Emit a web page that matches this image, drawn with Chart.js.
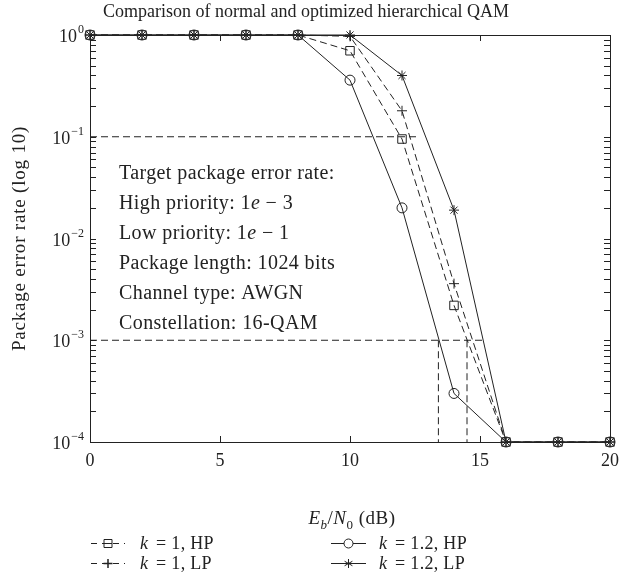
<!DOCTYPE html>
<html lang="en">
<head>
  <meta charset="UTF-8">
  <title>Hierarchical QAM</title>
  <script src="https://cdn.jsdelivr.net/npm/chart.js"></script>
  <style>
    body { margin: 0; background: #fff; }
    #grafico { display: block; }
  </style>
</head>
<body>
  <canvas id="grafico" width="619" height="575"></canvas>
  <script>
    // Eb/N0 in dB
    const ebno = [0, 2, 4, 6, 8, 10, 12, 14, 16, 18, 20];
    // package error rate per configuration
    const perK1HP = [1, 1, 1, 1, 1, 0.7, 0.095, 0.0022, 1e-4, 1e-4, 1e-4];
    const perK1LP = [1, 1, 1, 1, 1, 0.97, 0.18, 0.0036, 1e-4, 1e-4, 1e-4];
    const perK12HP = [1, 1, 1, 1, 1, 0.36, 0.02, 0.0003, 1e-4, 1e-4, 1e-4];
    const perK12LP = [1, 1, 1, 1, 1, 1, 0.4, 0.019, 1e-4, 1e-4, 1e-4];

    // target guides (x in dB, y as error rate)
    const guideLP = [[0, 0.1], [12.6, 0.1]];
    const guideHP = [[0, 1e-3], [15.2, 1e-3]];
    const guideK12 = [[13.4, 1e-3], [13.4, 1e-4]];
    const guideK1 = [[14.5, 1e-3], [14.5, 1e-4]];

    const xTicks = [0, 5, 10, 15, 20];
    const yDecades = [0, -1, -2, -3, -4];

    const notes = [
      ['Target package error rate:'],
      ['High priority: 1', 'e', ' \u2212 3'],
      ['Low priority: 1', 'e', ' \u2212 1'],
      ['Package length: 1024 bits'],
      ['Channel type: AWGN'],
      ['Constellation: 16-QAM']
    ];

    const SERIF = '"Liberation Serif", "DejaVu Serif", serif';
    const pts = ys => ebno.map((x, i) => ({ x, y: ys[i] }));
    const seg = arr => arr.map(p => ({ x: p[0], y: p[1] }));

    function serie(label, ys, style, dashed, radius) {
      return {
        label, data: pts(ys),
        borderColor: '#222', backgroundColor: 'rgba(0,0,0,0)',
        borderWidth: 1, borderDash: dashed ? [7, 4] : [],
        pointStyle: style, pointRadius: radius, pointBorderWidth: 1,
        pointBorderColor: '#222', pointBackgroundColor: 'rgba(0,0,0,0)',
        clip: false, tension: 0
      };
    }
    function guia(arr) {
      return {
        label: '', data: seg(arr), borderColor: '#222', borderWidth: 1,
        borderDash: [7, 4], pointRadius: 0, clip: false
      };
    }

    function fonte(ctx, size, italic, spacing) {
      ctx.font = (italic ? 'italic ' : '') + size + 'px ' + SERIF;
      ctx.letterSpacing = (spacing || 0) + 'px';
    }

    // frame, ticks, labels, notes, legend
    const moldura = {
      id: 'moldura',
      afterDraw(chart) {
        const ctx = chart.ctx;
        const a = chart.chartArea;
        const xs = chart.scales.x, ys = chart.scales.y;
        ctx.save();
        ctx.strokeStyle = '#222';
        ctx.lineWidth = 1;
        ctx.strokeRect(a.left + 0.5, a.top + 0.5, a.right - a.left, a.bottom - a.top);

        ctx.beginPath();
        xTicks.forEach(v => {
          const px = Math.round(xs.getPixelForValue(v)) + 0.5;
          ctx.moveTo(px, a.bottom); ctx.lineTo(px, a.bottom - 6);
          ctx.moveTo(px, a.top); ctx.lineTo(px, a.top + 6);
        });
        for (let d = -4; d < 0; d++) {
          for (let m = 2; m <= 9; m++) {
            const py = Math.round(ys.getPixelForValue(m * Math.pow(10, d))) + 0.5;
            ctx.moveTo(a.left, py); ctx.lineTo(a.left + 6, py);
            ctx.moveTo(a.right, py); ctx.lineTo(a.right - 6, py);
          }
        }
        yDecades.forEach(d => {
          const py = Math.round(ys.getPixelForValue(Math.pow(10, d))) + 0.5;
          ctx.moveTo(a.left, py); ctx.lineTo(a.left + 6, py);
          ctx.moveTo(a.right, py); ctx.lineTo(a.right - 6, py);
        });
        ctx.stroke();

        ctx.fillStyle = '#222';
        ctx.textBaseline = 'alphabetic';
        // x tick labels
        fonte(ctx, 18);
        ctx.textAlign = 'center';
        xTicks.forEach(v => ctx.fillText(String(v), xs.getPixelForValue(v), a.bottom + 24));

        // y tick labels with exponent
        yDecades.forEach(d => {
          const py = ys.getPixelForValue(Math.pow(10, d));
          const exp = d === 0 ? '0' : '\u2212' + (-d);
          fonte(ctx, 12);
          const we = ctx.measureText(exp).width;
          ctx.textAlign = 'left';
          const right = a.left - 6;
          ctx.fillText(exp, right - we, py - 2);
          fonte(ctx, 18);
          ctx.textAlign = 'right';
          ctx.fillText('10', right - we - 1, py + 7);
        });

        // title
        fonte(ctx, 18, false, 0);
        ctx.textAlign = 'center';
        ctx.fillText('Comparison of normal and optimized hierarchical QAM', 306, 17);

        // y axis title
        ctx.save();
        ctx.translate(25, (a.top + a.bottom) / 2);
        ctx.rotate(-Math.PI / 2);
        fonte(ctx, 19, false, 0.8);
        ctx.textAlign = 'center';
        ctx.fillText('Package error rate (log 10)', 0, 0);
        ctx.restore();

        // x axis title: Eb/N0 (dB)
        const partes = [
          ['E', 19, true, 0], ['b', 13, true, 5], ['/', 19, false, 0],
          ['N', 19, true, 0], ['0', 13, false, 5], [' (dB)', 19, false, 0]
        ];
        let total = 0;
        partes.forEach(p => { fonte(ctx, p[1], p[2], 0.5); total += ctx.measureText(p[0]).width; });
        let cx = 352 - total / 2;
        ctx.textAlign = 'left';
        partes.forEach(p => {
          fonte(ctx, p[1], p[2], 0.5);
          ctx.fillText(p[0], cx, 524 + p[3]);
          cx += ctx.measureText(p[0]).width;
        });

        // notes block
        notes.forEach((linha, i) => {
          let tx = 119;
          const ty = 179 + i * 30;
          linha.forEach((t, j) => {
            fonte(ctx, 20, j === 1, 0.4);
            ctx.fillText(t, tx, ty);
            tx += ctx.measureText(t).width;
          });
        });

        // legend
        const itens = [
          { k: '1', tipo: 'HP', style: 'rect', dashed: true, x0: 91, x1: 125, tx: 140, y: 543 },
          { k: '1', tipo: 'LP', style: 'cross', dashed: true, x0: 91, x1: 125, tx: 140, y: 563 },
          { k: '1.2', tipo: 'HP', style: 'circle', dashed: false, x0: 331, x1: 366, tx: 379, y: 543 },
          { k: '1.2', tipo: 'LP', style: 'star', dashed: false, x0: 331, x1: 366, tx: 379, y: 563 }
        ];
        itens.forEach(it => {
          ctx.beginPath();
          ctx.setLineDash(it.dashed ? [6, 5] : []);
          ctx.moveTo(it.x0, it.y + 0.5); ctx.lineTo(it.x1, it.y + 0.5);
          ctx.stroke();
          ctx.setLineDash([]);
          const mx = (it.x0 + it.x1) / 2, my = it.y + 0.5;
          ctx.fillStyle = '#fff';
          ctx.beginPath();
          if (it.style === 'rect') { ctx.rect(mx - 4, my - 4, 8, 8); ctx.fill(); ctx.stroke(); ctx.beginPath(); ctx.moveTo(mx - 4, my); ctx.lineTo(mx + 4, my); ctx.stroke(); }
          if (it.style === 'circle') { ctx.arc(mx, my, 4.5, 0, Math.PI * 2); ctx.fill(); ctx.stroke(); }
          if (it.style === 'cross') { ctx.lineWidth = 1.5; ctx.moveTo(mx - 4.5, my); ctx.lineTo(mx + 4.5, my); ctx.moveTo(mx, my - 4.5); ctx.lineTo(mx, my + 4.5); ctx.stroke(); ctx.lineWidth = 1; }
          if (it.style === 'star') {
            for (let g = 0; g < 3; g++) {
              const ang = Math.PI / 2 + g * Math.PI / 3;
              ctx.moveTo(mx - 4.5 * Math.cos(ang), my - 4.5 * Math.sin(ang));
              ctx.lineTo(mx + 4.5 * Math.cos(ang), my + 4.5 * Math.sin(ang));
            }
            ctx.stroke();
          }
          ctx.fillStyle = '#222';
          let tx = it.tx;
          const ty = it.y + 6;
          fonte(ctx, 18, true, 0.3);
          ctx.fillText('k', tx, ty);
          tx += ctx.measureText('k').width;
          fonte(ctx, 18, false, 0.3);
          ctx.fillText(' = ' + it.k + ', ' + it.tipo, tx + 3, ty);
        });
        ctx.restore();
      }
    };

    new Chart(document.getElementById('grafico'), {
      type: 'line',
      data: {
        datasets: [
          guia(guideLP), guia(guideHP), guia(guideK12), guia(guideK1),
          serie('k = 1, HP', perK1HP, 'rect', true, 6),
          serie('k = 1, LP', perK1LP, 'cross', true, 5),
          serie('k = 1.2, HP', perK12HP, 'circle', false, 5),
          serie('k = 1.2, LP', perK12LP, 'star', false, 5)
        ]
      },
      options: {
        responsive: false,
        devicePixelRatio: 1,
        animation: false,
        layout: { padding: { left: 90, right: 9, top: 35, bottom: 133 } },
        plugins: { legend: { display: false }, tooltip: { enabled: false } },
        scales: {
          x: { type: 'linear', min: 0, max: 20, display: false },
          y: { type: 'logarithmic', min: 1e-4, max: 1, display: false }
        }
      },
      plugins: [moldura]
    });
  </script>
</body>
</html>
